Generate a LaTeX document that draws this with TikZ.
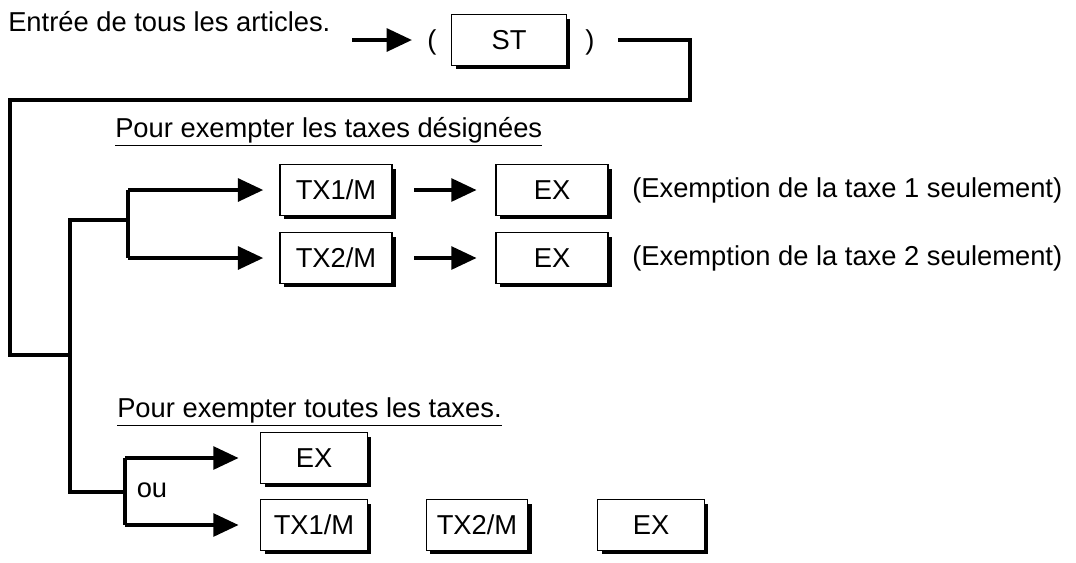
\documentclass[tikz,border=0pt]{standalone}
\usepackage{fontspec}
\setmainfont{Liberation Sans}
\usetikzlibrary{arrows.meta,shadows}

\tikzset{
  key/.style={draw, line width=1.1pt, fill=white, minimum height=38pt, inner sep=0pt,
    font=\fontsize{20.5}{23}\selectfont,
    drop shadow={shadow xshift=3pt, shadow yshift=-3pt, fill=black, opacity=1}},
  line/.style={line width=3pt},
  feed/.style={line width=3pt, -{Triangle[length=19pt,width=17pt]}},
  txt/.style={font=\fontsize{20.5}{23}\selectfont, inner sep=0pt}
}

\begin{document}
\begin{tikzpicture}[x=0.75pt,y=-0.75pt]
\useasboundingbox (0,0) rectangle (1076,562);

% entry line
\node[txt, anchor=west] (entry) at (8,22) {Entrée de tous les articles.};
\coordinate (s0) at (352,40);
\coordinate (s1) at (412,40);
\draw[feed] (s0) -- (s1);
\node[txt] (lp) at (432,42) {(};
\node[key, minimum width=86pt] (st) at (509,40) {ST};
\node[txt] (rp) at (590,42) {)};
\coordinate (r0) at (618,40);
\coordinate (r1) at (690,40);
\coordinate (r2) at (690,100);
\coordinate (l0) at (10,100);
\coordinate (l1) at (10,355);
\coordinate (j0) at (70,355);
\draw[line] (r0) -- (r1) -- (r2) -- (l0) -- (l1) -- (j0);

% designated taxes
\node[txt, anchor=west] (head1) at (115,132) {\underline{Pour exempter les taxes désignées}};
\coordinate (j1) at (70,220);
\coordinate (j2) at (128,220);
\coordinate (a0) at (128,190);
\coordinate (b0) at (128,258);
\draw[line] (j0) -- (j1) -- (j2);
\draw[line] (a0) -- (b0);
\node[key, minimum width=84pt] (tx1) at (336,190) {TX1/M};
\node[key, minimum width=84pt] (tx2) at (336,258) {TX2/M};
\node[key, minimum width=84pt] (ex1) at (552,190) {EX};
\node[key, minimum width=84pt] (ex2) at (552,258) {EX};
\draw[feed] (a0) -- ([xshift=-12]tx1.west);
\draw[feed] (b0) -- ([xshift=-12]tx2.west);
\draw[feed] ([xshift=16]tx1.east) -- ([xshift=-14]ex1.west);
\draw[feed] ([xshift=16]tx2.east) -- ([xshift=-14]ex2.west);
\node[txt, anchor=west] (note1) at (632,190) {(Exemption de la taxe 1 seulement)};
\node[txt, anchor=west] (note2) at (632,258) {(Exemption de la taxe 2 seulement)};

% all taxes
\node[txt, anchor=west] (head2) at (117,412) {\underline{Pour exempter toutes les taxes.}};
\coordinate (j3) at (70,492);
\coordinate (j4) at (125,492);
\coordinate (c0) at (125,458);
\coordinate (d0) at (125,525);
\draw[line] (j0) -- (j3) -- (j4);
\draw[line] (c0) -- (d0);
\node[key, minimum width=80pt] (ex3) at (314,458) {EX};
\node[key, minimum width=80pt] (tx3) at (314,525) {TX1/M};
\node[key, minimum width=76pt] (tx4) at (477,525) {TX2/M};
\node[key, minimum width=80pt] (ex4) at (651,525) {EX};
\draw[feed] (c0) -- ([xshift=-16]ex3.west);
\draw[feed] (d0) -- ([xshift=-16]tx3.west);
\node[txt] (ou) at (152,490) {ou};
\end{tikzpicture}
\end{document}
